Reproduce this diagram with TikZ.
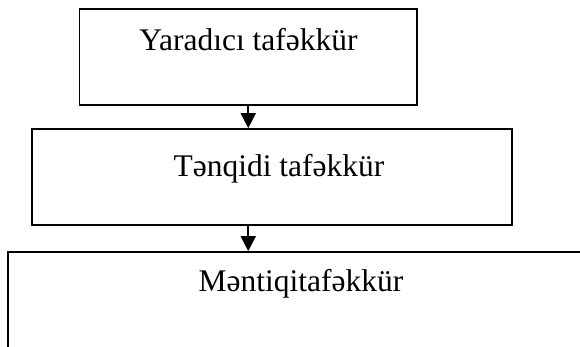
\documentclass[tikz,border=0pt]{standalone}
\usepackage{fontspec}
\setmainfont{Liberation Serif}
\usetikzlibrary{arrows.meta}
\tikzset{
  boxnode/.style={draw=black, line width=1.7pt, rectangle, inner sep=0pt},
  lbl/.style={anchor=base, inner sep=0pt, font=\fontsize{31.5pt}{36pt}\selectfont},
  arr/.style={line width=1.7pt, -{Triangle[width=15pt,length=15pt]}}
}
\begin{document}
\begin{tikzpicture}[x=1pt,y=-1pt]
\useasboundingbox (0,0) rectangle (580,346);
\clip (0,0) rectangle (580,346);
\node[boxnode, minimum width=337.5pt, minimum height=96pt] (b1) at (248.25,57) {};
\node[boxnode, minimum width=480pt, minimum height=96pt] (b2) at (272,177) {};
\node[boxnode, minimum width=612pt, minimum height=148pt] (b3) at (314,326) {};
\node[lbl] (t1) at (248.5,50) {Yaradıcı tafəkkür};
\node[lbl] (t2) at (279,176) {Tənqidi tafəkkür};
\node[lbl] (t3) at (301,291) {Məntiqitafəkkür};
\draw[arr] (b1.south) -- (b1.south |- b2.north);
\draw[arr] (b1.south |- b2.south) -- (b1.south |- b3.north);
\end{tikzpicture}
\end{document}
